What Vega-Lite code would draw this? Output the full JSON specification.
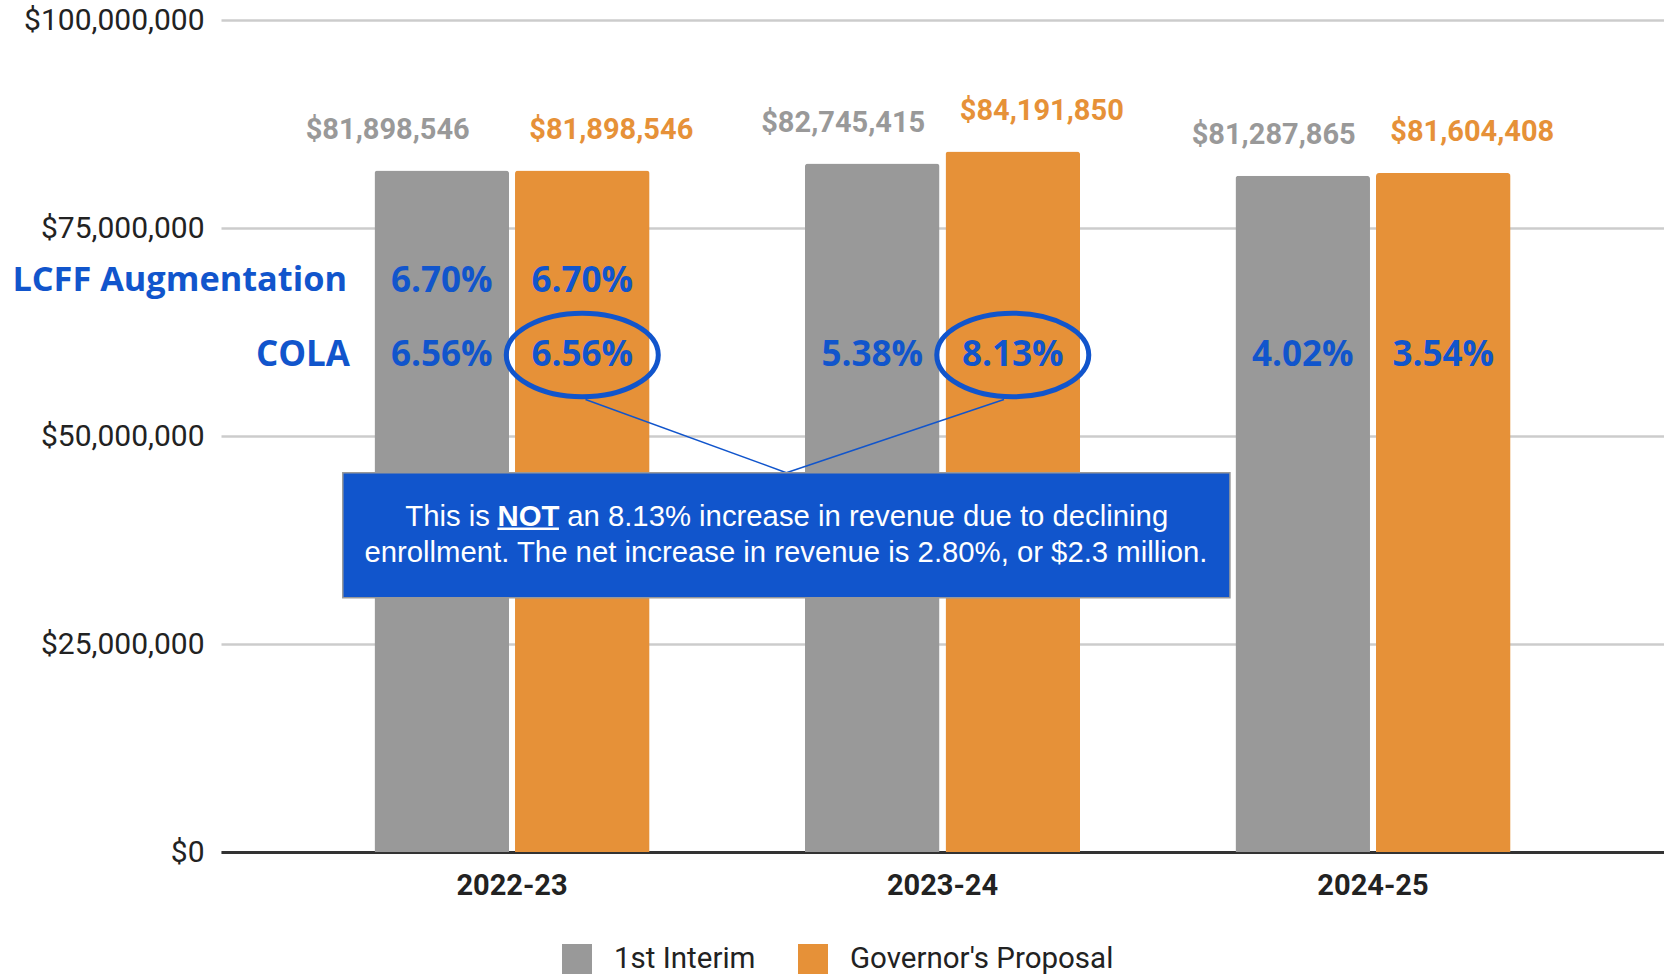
{
  "$schema": "https://vega.github.io/schema/vega-lite/v6.json",
  "width": 1443,
  "height": 832,
  "autosize": {"type": "none"},
  "padding": {"left": 221, "top": 20, "right": 0, "bottom": 124},
  "background": "white",
  "config": {"view": {"stroke": null}, "font": "Roboto"},
  "datasets": {
    "bars": [
      {"year": "2022-23", "series": "1st Interim", "value": 81898546},
      {"year": "2022-23", "series": "Governor's Proposal", "value": 81898546},
      {"year": "2023-24", "series": "1st Interim", "value": 82745415},
      {"year": "2023-24", "series": "Governor's Proposal", "value": 84191850},
      {"year": "2024-25", "series": "1st Interim", "value": 81287865},
      {"year": "2024-25", "series": "Governor's Proposal", "value": 81604408}
    ],
    "lcff": [
      {"year": "2022-23", "series": "1st Interim", "pct": "6.70%"},
      {"year": "2022-23", "series": "Governor's Proposal", "pct": "6.70%"}
    ],
    "cola": [
      {"year": "2022-23", "series": "1st Interim", "pct": "6.56%"},
      {"year": "2022-23", "series": "Governor's Proposal", "pct": "6.56%"},
      {"year": "2023-24", "series": "1st Interim", "pct": "5.38%"},
      {"year": "2023-24", "series": "Governor's Proposal", "pct": "8.13%"},
      {"year": "2024-25", "series": "1st Interim", "pct": "4.02%"},
      {"year": "2024-25", "series": "Governor's Proposal", "pct": "3.54%"}
    ],
    "circled": [
      {"year": "2022-23", "series": "Governor's Proposal"},
      {"year": "2023-24", "series": "Governor's Proposal"}
    ]
  },
  "layer": [
    {
      "layer": [
        {
          "data": {"name": "bars"},
          "mark": {"type": "bar", "cornerRadiusTopLeft": 3, "cornerRadiusTopRight": 3},
          "encoding": {
            "x": {
              "field": "year", "type": "nominal",
              "scale": {"paddingInner": 0.361, "paddingOuter": 0.3565},
              "axis": {"title": null, "labelAngle": 0, "labelFontSize": 29, "labelFontWeight": "bold", "labelColor": "#222222", "labelFont": "Roboto", "ticks": false, "domainColor": "#333333", "domainWidth": 3, "labelPadding": 19}
            },
            "xOffset": {"field": "series", "type": "nominal", "scale": {"paddingInner": 0.0427, "paddingOuter": 0}},
            "y": {
              "field": "value", "type": "quantitative",
              "scale": {"domain": [0, 100000000], "nice": false},
              "axis": {"title": null, "values": [0, 25000000, 50000000, 75000000, 100000000], "format": "$,.0f", "labelFontSize": 30, "labelColor": "#222222", "labelFont": "Roboto", "labelLimit": 0, "ticks": false, "domain": false, "gridColor": "#cccccc", "gridWidth": 2.5, "labelPadding": 17}
            },
            "color": {
              "field": "series", "type": "nominal",
              "scale": {"domain": ["1st Interim", "Governor's Proposal"], "range": ["#999999", "#e69138"]},
              "legend": {"orient": "none", "legendX": 341, "legendY": 924, "direction": "horizontal", "title": null, "symbolType": "square", "symbolSize": 900, "symbolStrokeWidth": 0, "labelFontSize": 29.5, "labelFont": "Roboto", "labelColor": "#222222", "labelOffset": 22, "columnPadding": 42, "labelLimit": 0}
            }
          }
        },
        {
          "data": {"name": "bars"},
          "transform": [{"filter": "datum.series == '1st Interim' && datum.year == '2022-23'"}],
          "mark": {"type": "text", "fontWeight": "bold", "fontSize": 29, "baseline": "middle", "dy": -41, "dx": -54, "font": "Roboto"},
          "encoding": {
            "x": {"field": "year", "type": "nominal"},
            "xOffset": {"field": "series", "type": "nominal"},
            "y": {"field": "value", "type": "quantitative"},
            "text": {"field": "value", "type": "quantitative", "format": "$,.0f"},
            "color": {"field": "series", "type": "nominal", "legend": null}
          }
        },
        {
          "data": {"name": "bars"},
          "transform": [{"filter": "datum.series == '1st Interim' && datum.year != '2022-23'"}],
          "mark": {"type": "text", "fontWeight": "bold", "fontSize": 29, "baseline": "middle", "dy": -41, "dx": -29, "font": "Roboto"},
          "encoding": {
            "x": {"field": "year", "type": "nominal"},
            "xOffset": {"field": "series", "type": "nominal"},
            "y": {"field": "value", "type": "quantitative"},
            "text": {"field": "value", "type": "quantitative", "format": "$,.0f"},
            "color": {"field": "series", "type": "nominal", "legend": null}
          }
        },
        {
          "data": {"name": "bars"},
          "transform": [{"filter": "datum.series == 'Governor\\'s Proposal'"}],
          "mark": {"type": "text", "fontWeight": "bold", "fontSize": 29, "baseline": "middle", "dy": -41, "dx": 29, "font": "Roboto"},
          "encoding": {
            "x": {"field": "year", "type": "nominal"},
            "xOffset": {"field": "series", "type": "nominal"},
            "y": {"field": "value", "type": "quantitative"},
            "text": {"field": "value", "type": "quantitative", "format": "$,.0f"},
            "color": {"field": "series", "type": "nominal", "legend": null}
          }
        },
        {
          "data": {"name": "lcff"},
          "mark": {"type": "text", "font": "Open Sans", "fontWeight": "bold", "fontSize": 35, "color": "#1155cc", "baseline": "middle"},
          "encoding": {
            "x": {"field": "year", "type": "nominal"},
            "xOffset": {"field": "series", "type": "nominal"},
            "y": {"datum": 68640000},
            "text": {"field": "pct", "type": "nominal"}
          }
        },
        {
          "data": {"name": "cola"},
          "mark": {"type": "text", "font": "Open Sans", "fontWeight": "bold", "fontSize": 35, "color": "#1155cc", "baseline": "middle"},
          "encoding": {
            "x": {"field": "year", "type": "nominal"},
            "xOffset": {"field": "series", "type": "nominal"},
            "y": {"datum": 59740000},
            "text": {"field": "pct", "type": "nominal"}
          }
        },
        {
          "data": {"name": "circled"},
          "mark": {"type": "point", "shape": "M-1,0C-1,-0.304,-0.552,-0.55,0,-0.55C0.552,-0.55,1,-0.304,1,0C1,0.304,0.552,0.55,0,0.55C-0.552,0.55,-1,0.304,-1,0Z", "size": 23104, "filled": false, "stroke": "#1155cc", "strokeWidth": 5, "opacity": 1},
          "encoding": {
            "x": {"field": "year", "type": "nominal"},
            "xOffset": {"field": "series", "type": "nominal"},
            "y": {"datum": 59740000}
          }
        }
      ]
    },
    {
      "layer": [
        {
          "data": {"values": [{"label": "LCFF Augmentation"}]},
          "mark": {"type": "text", "font": "Open Sans", "fontWeight": "bold", "fontSize": 34.3, "color": "#1155cc", "baseline": "middle", "align": "right"},
          "encoding": {
            "x": {"datum": 8.73, "type": "quantitative", "scale": {"domain": [0, 100], "nice": false, "zero": false}, "axis": null},
            "y": {"datum": 68640000},
            "text": {"field": "label", "type": "nominal"}
          }
        },
        {
          "data": {"values": [{"label": "COLA"}]},
          "mark": {"type": "text", "font": "Open Sans", "fontWeight": "bold", "fontSize": 35, "color": "#1155cc", "baseline": "middle", "align": "right"},
          "encoding": {
            "x": {"datum": 8.94, "type": "quantitative", "axis": null},
            "y": {"datum": 59740000},
            "text": {"field": "label", "type": "nominal"}
          }
        },
        {
          "data": {"values": [{}]},
          "mark": {"type": "rule", "color": "#1155cc", "strokeWidth": 1.5},
          "encoding": {
            "x": {"datum": 25.26, "type": "quantitative", "axis": null},
            "x2": {"datum": 39.18},
            "y": {"datum": 54380000},
            "y2": {"datum": 45590000}
          }
        },
        {
          "data": {"values": [{}]},
          "mark": {"type": "rule", "color": "#1155cc", "strokeWidth": 1.5},
          "encoding": {
            "x": {"datum": 39.18, "type": "quantitative", "axis": null},
            "x2": {"datum": 54.26},
            "y": {"datum": 45590000},
            "y2": {"datum": 54380000}
          }
        },
        {
          "data": {"values": [{}]},
          "mark": {"type": "rect", "fill": "#1155cc", "stroke": "#999999", "strokeWidth": 1.5},
          "encoding": {
            "x": {"datum": 8.44, "type": "quantitative", "axis": null},
            "x2": {"datum": 69.92},
            "y": {"datum": 45590000},
            "y2": {"datum": 30560000}
          }
        },
        {
          "data": {"values": [{"t": "This is"}]},
          "mark": {"type": "text", "font": "Liberation Sans", "fontSize": 29.3, "color": "white", "baseline": "middle", "align": "right"},
          "encoding": {
            "x": {"datum": 18.64, "type": "quantitative", "axis": null},
            "y": {"datum": 40240000},
            "text": {"field": "t", "type": "nominal"}
          }
        },
        {
          "data": {"values": [{"t": "NOT"}]},
          "mark": {"type": "text", "font": "Liberation Sans", "fontWeight": "bold", "fontSize": 29.3, "color": "white", "baseline": "middle", "align": "center"},
          "encoding": {
            "x": {"datum": 21.31, "type": "quantitative", "axis": null},
            "y": {"datum": 40240000},
            "text": {"field": "t", "type": "nominal"}
          }
        },
        {
          "data": {"values": [{"t": "an 8.13% increase in revenue due to declining"}]},
          "mark": {"type": "text", "font": "Liberation Sans", "fontSize": 29.3, "color": "white", "baseline": "middle", "align": "left"},
          "encoding": {
            "x": {"datum": 23.99, "type": "quantitative", "axis": null},
            "y": {"datum": 40240000},
            "text": {"field": "t", "type": "nominal"}
          }
        },
        {
          "data": {"values": [{"t": "enrollment. The net increase in revenue is 2.80%, or $2.3 million."}]},
          "mark": {"type": "text", "font": "Liberation Sans", "fontSize": 29.3, "color": "white", "baseline": "middle", "align": "center"},
          "encoding": {
            "x": {"datum": 39.15, "type": "quantitative", "axis": null},
            "y": {"datum": 35910000},
            "text": {"field": "t", "type": "nominal"}
          }
        },
        {
          "data": {"values": [{}]},
          "mark": {"type": "rule", "color": "white", "strokeWidth": 2.5},
          "encoding": {
            "x": {"datum": 19.16, "type": "quantitative", "axis": null},
            "x2": {"datum": 23.42},
            "y": {"datum": 38840000}
          }
        }
      ]
    }
  ],
  "resolve": {"scale": {"x": "independent"}}
}
